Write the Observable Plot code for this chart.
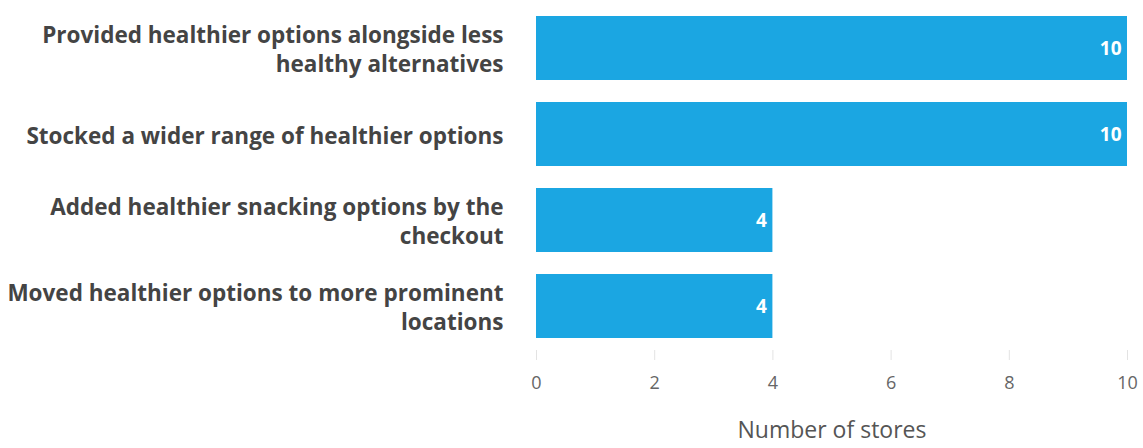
<!DOCTYPE html>
<html>
<head>
<meta charset="utf-8">
<script src="https://cdn.jsdelivr.net/npm/d3@7"></script>
<script src="https://cdn.jsdelivr.net/npm/@observablehq/plot@0.6"></script>
<style>
  html, body { margin: 0; padding: 0; background: #fff; }
  #chart svg { display: block; }
</style>
</head>
<body>
<div id="chart"></div>
<script>
const categories = [
  "Provided healthier options alongside less healthy alternatives",
  "Stocked a wider range of healthier options",
  "Added healthier snacking options by the checkout",
  "Moved healthier options to more prominent locations"
];
const categoryLabels = [
  "Provided healthier options alongside less\nhealthy alternatives",
  "Stocked a wider range of healthier options",
  "Added healthier snacking options by the\ncheckout",
  "Moved healthier options to more prominent\nlocations"
];
const values = [10, 10, 4, 4];
const xTicks = [0, 2, 4, 6, 8, 10];
const xLabel = "Number of stores";

const data = categories.map((c, i) => ({category: c, value: values[i]}));
const labelOf = new Map(categories.map((c, i) => [c, categoryLabels[i]]));

const chart = Plot.plot({
  width: 1143,
  height: 448,
  marginTop: 4,
  marginBottom: 98,
  marginLeft: 536,
  marginRight: 16,
  style: {fontFamily: "'Open Sans', sans-serif", background: "#fff"},
  x: {domain: [0, 10]},
  y: {domain: categories, paddingInner: 0.26, paddingOuter: 0.127},
  marks: [
    Plot.barX(data, {y: "category", x: "value", fill: "#1ba6e2"}),
    Plot.text(data, {
      y: "category", x: "value", text: d => String(d.value),
      textAnchor: "end", dx: -6, fill: "#fff", fontWeight: "bold", fontSize: 19
    }),
    Plot.ruleY([0], {frameAnchor: "bottom", stroke: "#e3e3e3"}),
    Plot.axisX({
      ticks: xTicks, tickSize: 10, tickPadding: 16, stroke: "#e3e3e3",
      fill: "#666", fontSize: 18, label: null
    }),
    Plot.axisY({
      tickSize: 0, tickPadding: 33, fontSize: 22.5, fontWeight: "bold",
      fill: "#444", label: null, tickFormat: d => labelOf.get(d),
      lineHeight: 1.29
    }),
    Plot.text([xLabel], {
      frameAnchor: "bottom", dy: 87, fontSize: 23, fill: "#555"
    })
  ]
});
document.getElementById("chart").appendChild(chart);
</script>
</body>
</html>
